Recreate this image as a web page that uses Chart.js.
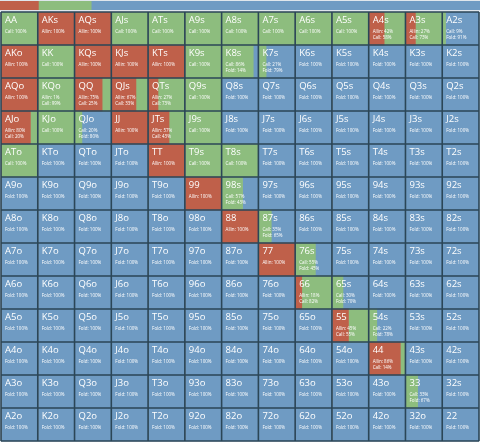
<!DOCTYPE html>
<html><head><meta charset="utf-8">
<script src="https://cdn.jsdelivr.net/npm/chart.js@4"></script>
<style>html,body{margin:0;padding:0;background:#dfe6ec;overflow:hidden}
#s{position:absolute;left:0;top:0}#c{position:absolute;left:0;top:0}</style>
</head><body>
<div style="position:absolute;left:0;top:0;width:480px;height:11px"><canvas id="s"></canvas></div>
<div style="position:absolute;left:0;top:11px;width:480px;height:431px"><canvas id="c"></canvas></div>
<script>
const ranks = ['A','K','Q','J','T','9','8','7','6','5','4','3','2'];
const actions = ['Allin','Call','Fold'];
const colors = ['#bf604a','#8dbd7e','#6f9bc3'];
const summary = [8, 11, 81];
const allin = [
 [0,100,100,0,0,0,0,0,0,0,42,27,0],
 [100,0,100,100,100,0,0,0,0,0,0,0,0],
 [100,1,75,67,27,0,0,0,0,0,0,0,0],
 [80,0,0,100,57,0,0,0,0,0,0,0,0],
 [0,0,0,0,100,0,0,0,0,0,0,0,0],
 [0,0,0,0,0,100,0,0,0,0,0,0,0],
 [0,0,0,0,0,0,100,0,0,0,0,0,0],
 [0,0,0,0,0,0,0,100,0,0,0,0,0],
 [0,0,0,0,0,0,0,0,18,0,0,0,0],
 [0,0,0,0,0,0,0,0,0,45,0,0,0],
 [0,0,0,0,0,0,0,0,0,0,86,0,0],
 [0,0,0,0,0,0,0,0,0,0,0,0,0],
 [0,0,0,0,0,0,0,0,0,0,0,0,0]
];
const call = [
 [100,0,0,100,100,100,100,100,100,100,58,73,9],
 [0,100,0,0,0,100,86,21,0,0,0,0,0],
 [0,99,25,33,73,100,0,0,0,0,0,0,0],
 [20,100,20,0,43,100,0,0,0,0,0,0,0],
 [100,0,0,0,0,100,100,0,0,0,0,0,0],
 [0,0,0,0,0,0,57,0,0,0,0,0,0],
 [0,0,0,0,0,0,0,35,0,0,0,0,0],
 [0,0,0,0,0,0,0,0,55,0,0,0,0],
 [0,0,0,0,0,0,0,0,82,30,0,0,0],
 [0,0,0,0,0,0,0,0,0,55,22,0,0],
 [0,0,0,0,0,0,0,0,0,0,14,0,0],
 [0,0,0,0,0,0,0,0,0,0,0,33,0],
 [0,0,0,0,0,0,0,0,0,0,0,0,0]
];
function hand(i,j){return i===j?ranks[i]+ranks[j]:(j>i?ranks[i]+ranks[j]+'s':ranks[j]+ranks[i]+'o');}
function parts(i,j){const a=allin[i][j],c=call[i][j];return [a,c,100-a-c];}

const datasets=[];
for(let j=0;j<13;j++){
  for(let k=0;k<3;k++){
    datasets.push({data:ranks.map((_,i)=>{const p=parts(i,j);let s=0;for(let q=0;q<k;q++)s+=p[q];return [j+s/100,j+(s+p[k])/100];}),
      backgroundColor:colors[k],borderWidth:0,barPercentage:1,categoryPercentage:1,grouped:false});
  }
}
const textPlugin={id:'txt',afterDraw(ch){
  const ctx=ch.ctx,x=ch.scales.x,y=ch.scales.y,h=y.height/13;
  ctx.save();
  ctx.strokeStyle='#2b4657';ctx.lineWidth=1.6;ctx.beginPath();
  for(let k=0;k<=13;k++){const px=x.getPixelForValue(k);ctx.moveTo(px,y.top);ctx.lineTo(px,y.bottom);}
  for(let i=0;i<=13;i++){const py=(i<13?y.getPixelForValue(i)-h/2:y.getPixelForValue(12)+h/2);ctx.moveTo(x.left,py);ctx.lineTo(x.right,py);}
  ctx.stroke();
  ctx.fillStyle='#ffffff';ctx.textBaseline='top';
  for(let i=0;i<13;i++)for(let j=0;j<13;j++){
    const px=x.getPixelForValue(j)+4, top=y.getPixelForValue(i)-h/2+4;
    ctx.font='9.5px "Open Sans"';ctx.fillText(hand(i,j),px,top);
    ctx.font='4.5px "Open Sans"';
    const p=parts(i,j);let ln=0;
    p.forEach((v,k)=>{if(v>0){ctx.fillText(actions[k]+': '+v+'%',px,top+13+ln*6);ln++;}});
  }
  ctx.restore();}};
new Chart(document.getElementById('c'),{type:'bar',data:{labels:ranks,datasets},
 options:{indexAxis:'y',responsive:true,maintainAspectRatio:false,animation:false,
  layout:{padding:1},
  plugins:{legend:{display:false},tooltip:{enabled:false}},
  scales:{x:{type:'linear',min:0,max:13,display:false},
   y:{display:false}}},
 plugins:[textPlugin]});
new Chart(document.getElementById('s'),{type:'bar',data:{labels:[''],datasets:summary.map((v,k)=>({data:[v],backgroundColor:colors[k],barPercentage:1,categoryPercentage:1}))},
 options:{indexAxis:'y',responsive:true,maintainAspectRatio:false,animation:false,layout:{padding:{top:1,bottom:1}},
  plugins:{legend:{display:false},tooltip:{enabled:false}},
  scales:{x:{stacked:true,min:0,max:100,display:false},y:{stacked:true,display:false}}}});
</script></body></html>
